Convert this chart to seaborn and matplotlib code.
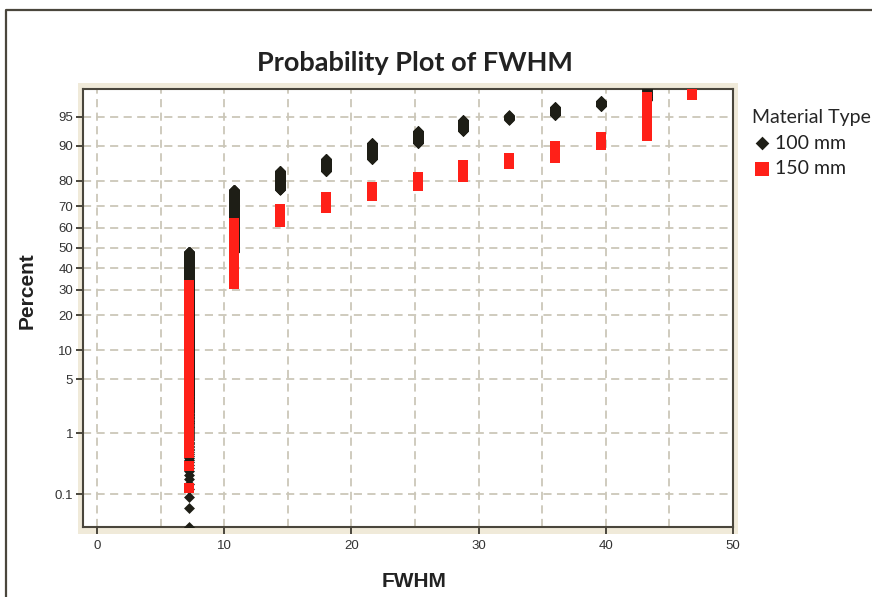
import numpy as np
import pandas as pd
import seaborn as sns
import matplotlib.pyplot as plt
from matplotlib.patches import Rectangle
from matplotlib.lines import Line2D
from statistics import NormalDist

# FWHM bins (grouped values) and how many observations fall in each bin
fwhm_values = [7.2, 10.8, 14.4, 18.0, 21.6, 25.2, 28.8, 32.4, 36.0, 39.6, 43.2, 46.8, 50.4]
counts_100mm = [1446, 858, 195, 105, 114, 69, 51, 18, 30, 18, 66, 20, 10]
counts_150mm = [175, 163, 34, 28, 21, 18, 21, 10, 16, 10, 29, 11, 4]
materials = ["100 mm", "150 mm"]

percent_ticks = [0.1, 1, 5, 10, 20, 30, 40, 50, 60, 70, 80, 90, 95]
x_ticks = [0, 10, 20, 30, 40, 50]

frame_col = "#4A463C"
beige = "#F0EAD9"
grid_col = "#CBC7B9"


def median_ranks(values, counts):
    # Benard's approximation, as used in probability plots
    x = np.repeat(values, counts)
    n = len(x)
    i = np.arange(1, n + 1)
    return x, (i - 0.3) / (n + 0.4) * 100


frames = []
for mat, cnt in zip(materials, [counts_100mm, counts_150mm]):
    x, p = median_ranks(fwhm_values, cnt)
    frames.append(pd.DataFrame({"FWHM": x, "Percent": p, "Material": mat}))
df = pd.concat(frames, ignore_index=True)

_nd = NormalDist()
_inv = np.vectorize(_nd.inv_cdf, otypes=[float])
_cdf = np.vectorize(_nd.cdf, otypes=[float])


def probit(p):
    p = np.clip(np.asarray(p, dtype=float), 1e-7, 100 - 1e-7) / 100
    return _inv(p)


def inv_probit(z):
    return _cdf(np.asarray(z, dtype=float)) * 100


sns.set_style("white")
plt.rcParams["font.family"] = ["Liberation Sans", "DejaVu Sans"]

fig = plt.figure(figsize=(8.72, 5.97), dpi=100)
ax = fig.add_axes([83 / 872, 1 - 527 / 597, 650 / 872, 438 / 597])

# beige plot region behind the axes, and the outer frame
fig.patches.append(Rectangle((78 / 872, 1 - 534 / 597), 660 / 872, 451 / 597,
                             transform=fig.transFigure, facecolor=beige,
                             edgecolor="none", zorder=-1))
fig.lines.append(Line2D([6 / 872, 6 / 872, 1], [0, 1 - 10 / 597, 1 - 10 / 597],
                        transform=fig.transFigure, color=frame_col, lw=1.6))

sns.scatterplot(data=df[df.Material == "100 mm"], x="FWHM", y="Percent",
                marker="D", color="#1E1E16", s=31, linewidth=0, ax=ax,
                label="100 mm", zorder=3)
sns.scatterplot(data=df[df.Material == "150 mm"], x="FWHM", y="Percent",
                marker="s", color="#FF2018", s=60, linewidth=0, ax=ax,
                label="150 mm", zorder=4)

ax.set_yscale("function", functions=(probit, inv_probit))
ax.set_ylim(0.0233, 97.69)
ax.set_xlim(-1.1, 50)
ax.set_yticks(percent_ticks)
ax.set_yticklabels([f"{t:g}" for t in percent_ticks])
ax.set_yticks([], minor=True)
ax.set_xticks(x_ticks)
ax.set_xticks([5, 15, 25, 35, 45], minor=True)

ax.grid(True, which="both", axis="x", color=grid_col, lw=1.3, linestyle=(0, (4.5, 3)))
ax.grid(True, which="major", axis="y", color=grid_col, lw=1.3, linestyle=(0, (4.5, 3)))
ax.set_axisbelow(True)

for sp in ax.spines.values():
    sp.set_color(frame_col)
    sp.set_linewidth(1.5)
ax.tick_params(which="major", direction="out", length=5, width=1.4,
               color=frame_col, labelsize=9.5, labelcolor="#333333",
               left=True, bottom=True)
ax.tick_params(axis="y", pad=2)
ax.tick_params(axis="x", pad=4.5)
ax.tick_params(which="minor", length=0)

ax.set_xlabel("FWHM", fontsize=15, fontweight="bold", color="#222222")
ax.set_ylabel("Percent", fontsize=15, fontweight="bold", color="#222222")
ax.xaxis.set_label_coords(0.509, -0.103)
ax.yaxis.set_label_coords(-0.072, 0.539)

fig.text(415 / 872, 1 - 63 / 597, "Probability Plot of FWHM", ha="center",
         va="center", fontsize=19.5, fontweight="bold", family="Lato", color="#222222")

leg = ax.legend(title="Material Type", loc="upper left",
                bbox_to_anchor=(744 / 872, 1 - 101 / 597),
                bbox_transform=fig.transFigure, frameon=False,
                prop={"family": "Lato", "size": 14}, title_fontproperties={"family": "Lato", "size": 14},
                handletextpad=0.2, labelspacing=0.45, borderaxespad=0, handlelength=1.0,
                markerscale=1.25, alignment="left", labelcolor="#222222")

fig.savefig("out.png", dpi=100)
